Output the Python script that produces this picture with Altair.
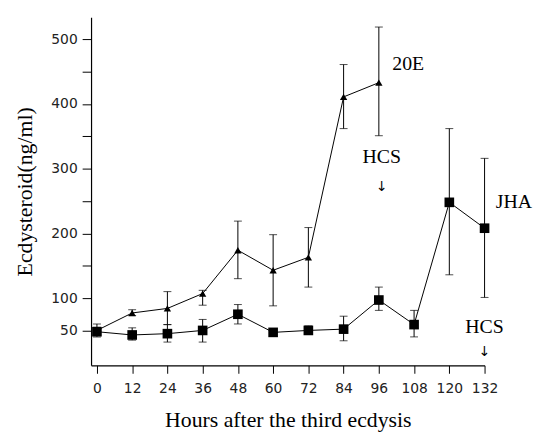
import altair as alt
import pandas as pd

# ---- data ----
hours_axis = [0, 12, 24, 36, 48, 60, 72, 84, 96, 108, 120, 132]

e20_hours = [0, 12, 24, 36, 48, 60, 72, 84, 96]
e20_mean = [50, 77, 84, 107, 174, 143, 163, 411, 433]
e20_low = [40, 73, 59, 89, 130, 88, 117, 362, 351]
e20_high = [60, 82, 110, 112, 219, 198, 209, 461, 519]

jha_hours = [0, 12, 24, 36, 48, 60, 72, 84, 96, 108, 120, 132]
jha_mean = [48, 43, 45, 50, 75, 47, 50, 52, 97, 59, 248, 208]
jha_low = [42, 35, 32, 32, 60, 44, 44, 34, 81, 40, 136, 101]
jha_high = [55, 54, 59, 67, 90, 50, 57, 72, 117, 81, 362, 316]

y_ticks = [50, 100, 150, 200, 250, 300, 350, 400, 450, 500]
y_labels = [50, 100, 200, 300, 400, 500]

ann_text = ["20E", "HCS", "JHA", "HCS"]
ann_x = [106, 97, 142, 132]
ann_y = [462, 318, 248, 55]

arrow_x = [97, 132]
arrow_y = [271, 17]

e20 = pd.DataFrame({"h": e20_hours, "m": e20_mean, "lo": e20_low, "hi": e20_high, "s": "20E"})
jha = pd.DataFrame({"h": jha_hours, "m": jha_mean, "lo": jha_low, "hi": jha_high, "s": "JHA"})
df = pd.concat([e20, jha], ignore_index=True)
ann = pd.DataFrame({"x": ann_x, "y": ann_y, "t": ann_text})
arr = pd.DataFrame({"x": arrow_x, "y": arrow_y, "t": ["↓", "↓"]})

xs = alt.Scale(domain=[-2, 132], nice=False, zero=False)
ys = alt.Scale(domain=[-4, 534], nice=False, zero=False)

label_expr = "indexof([" + ",".join(str(v) for v in y_labels) + "], datum.value) >= 0 ? datum.label : ''"

x_axis = alt.Axis(
    values=hours_axis, title="Hours after the third ecdysis", tickSize=8,
    labelPadding=8, titlePadding=15, labelFlush=False, labelOverlap=False)
y_axis = alt.Axis(
    values=y_ticks, labelExpr=label_expr, title="Ecdysteroid(ng/ml)",
    tickSize=9, labelPadding=5, titlePadding=14, labelFlush=False, labelOverlap=False)

base = alt.Chart(df)

lines = base.mark_line(color="black", strokeWidth=1).encode(
    x=alt.X("h:Q", scale=xs, axis=x_axis), y=alt.Y("m:Q", scale=ys, axis=y_axis), detail="s:N")
bars = base.mark_rule(color="black", strokeWidth=1).encode(
    x=alt.X("h:Q", scale=xs, axis=x_axis), y=alt.Y("lo:Q", scale=ys, axis=y_axis), y2="hi:Q")
cap_lo = base.mark_tick(color="black", orient="horizontal", size=8, thickness=1).encode(
    x=alt.X("h:Q", scale=xs, axis=x_axis), y=alt.Y("lo:Q", scale=ys, axis=y_axis))
cap_hi = base.mark_tick(color="black", orient="horizontal", size=8, thickness=1).encode(
    x=alt.X("h:Q", scale=xs, axis=x_axis), y=alt.Y("hi:Q", scale=ys, axis=y_axis))
pts = base.mark_point(filled=True, opacity=1, color="black").encode(
    x=alt.X("h:Q", scale=xs, axis=x_axis), y=alt.Y("m:Q", scale=ys, axis=y_axis),
    shape=alt.Shape("s:N", scale=alt.Scale(domain=["20E", "JHA"], range=["triangle-up", "square"]), legend=None),
    size=alt.Size("s:N", scale=alt.Scale(domain=["20E", "JHA"], range=[55, 95]), legend=None))

texts = alt.Chart(ann).mark_text(font="Liberation Serif", fontSize=20, color="black").encode(
    x=alt.X("x:Q", scale=xs, axis=x_axis), y=alt.Y("y:Q", scale=ys, axis=y_axis), text="t:N")
arrows = alt.Chart(arr).mark_text(font="DejaVu Sans", fontSize=14, color="black").encode(
    x=alt.X("x:Q", scale=xs, axis=x_axis), y=alt.Y("y:Q", scale=ys, axis=y_axis), text="t:N")

chart = alt.layer(lines, bars, cap_lo, cap_hi, pts, texts, arrows).properties(
    width=398, height=352,
    autosize=alt.AutoSizeParams(type="none"),
    padding={"left": 84, "top": 7, "right": 50, "bottom": 68},
).configure_view(stroke=None).configure_axis(
    grid=False, domainColor="black", tickColor="black", domainWidth=1.2,
    labelFont="DejaVu Sans", labelFontSize=14, labelColor="#222", labelOverlap=False,
    titleFont="Liberation Serif", titleFontSize=22, titleFontWeight="normal", titleColor="black",
)

chart.save("out.html", embed_options={"renderer": "svg", "actions": False})
